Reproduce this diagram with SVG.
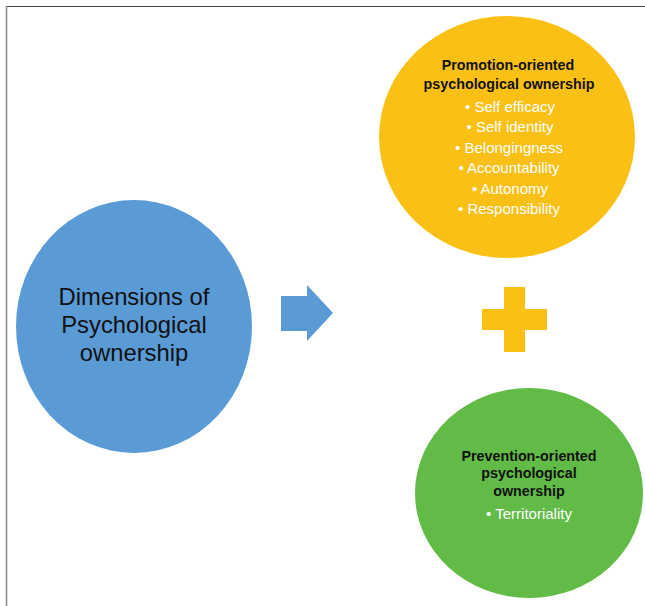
<svg xmlns="http://www.w3.org/2000/svg" width="645" height="606" viewBox="0 0 645 606">
<style>
.t{font-family:"Liberation Sans",Arial,sans-serif;text-anchor:middle}
.big{font-size:23.8px;fill:#111}
.h{font-size:14.3px;font-weight:bold;fill:#111}
.b{font-size:15px;fill:#fff}
</style>
<rect width="645" height="606" fill="#fff"/>
<line x1="6" y1="6.5" x2="645" y2="6.5" stroke="#444" stroke-width="1.2"/>
<line x1="6.5" y1="6" x2="6.5" y2="606" stroke="#888" stroke-width="1.5"/>
<g id="dimensions">
<ellipse cx="134" cy="326.5" rx="118" ry="126.5" fill="#5B9BD5"/>
<text class="t big" x="134" y="305">Dimensions of</text>
<text class="t big" x="134" y="333">Psychological</text>
<text class="t big" x="134" y="361">ownership</text>
</g>
<g id="connectors">
<path d="M281,296 H307 V285 L333,313 L307,341 V331 H281 Z" fill="#5B9BD5"/>
</g>
<g id="promotion">
<ellipse cx="507" cy="137" rx="128" ry="121" fill="#FBC015"/>
<text class="t h" x="508" y="70">Promotion-oriented</text>
<text class="t h" x="509" y="89">psychological ownership</text>
<text class="t b" x="510" y="112">• Self efficacy</text>
<text class="t b" x="510" y="132">• Self identity</text>
<text class="t b" x="509" y="153">• Belongingness</text>
<text class="t b" x="509" y="173">• Accountability</text>
<text class="t b" x="510" y="194">• Autonomy</text>
<text class="t b" x="509" y="214">• Responsibility</text>
</g>
<g id="plus">
<path d="M504,287 H525 V309 H547 V330 H525 V352 H504 V330 H482 V309 H504 Z" fill="#FBC015"/>
</g>
<g id="prevention">
<ellipse cx="529" cy="493" rx="114" ry="105" fill="#62BB47"/>
<text class="t h" x="529" y="461">Prevention-oriented</text>
<text class="t h" x="529" y="478">psychological</text>
<text class="t h" x="529" y="496">ownership</text>
<text class="t b" x="529" y="519">• Territoriality</text>
</g>
</svg>
